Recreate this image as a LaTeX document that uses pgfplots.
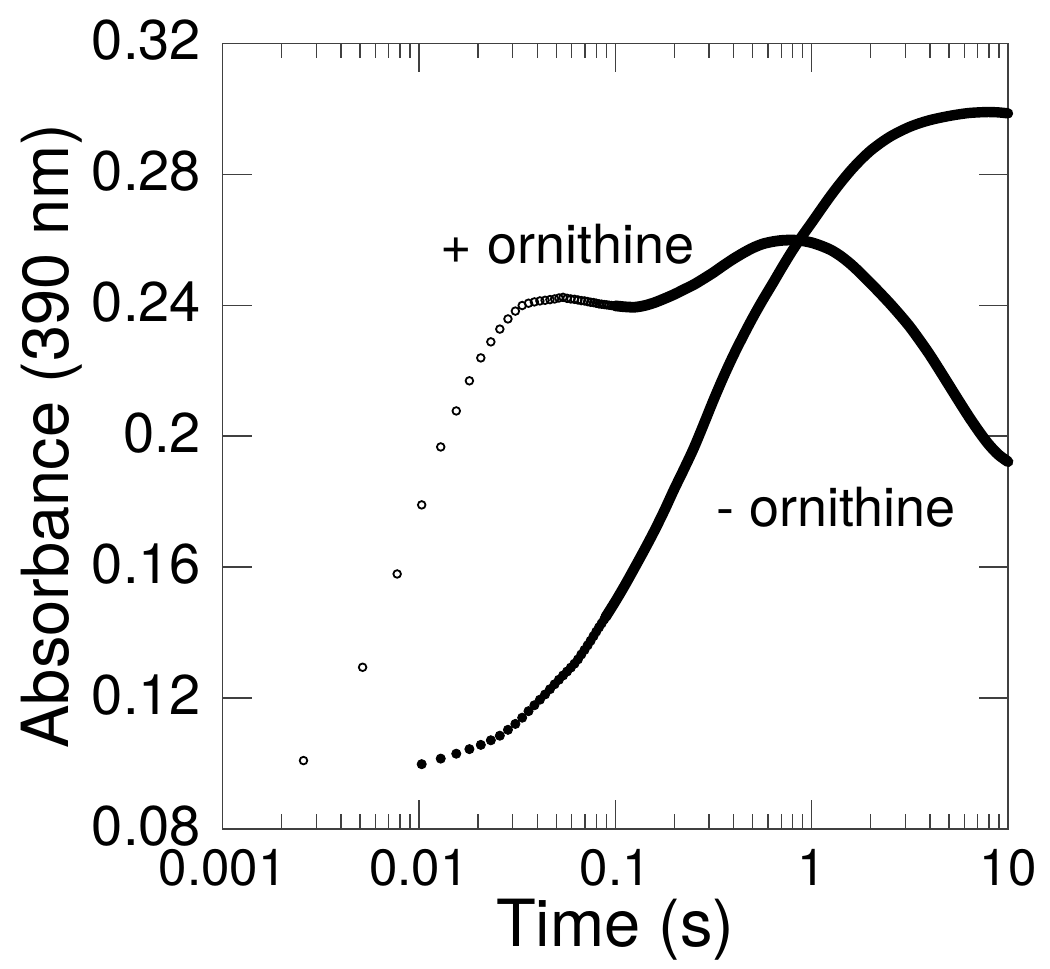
\documentclass[border=0pt]{standalone}
\usepackage{fontspec}
\setmainfont{TeX Gyre Heros}
\usepackage{pgfplots}
\usepackage{pgfplotstable}
\pgfplotsset{compat=1.18}

% + ornithine, single shots (open circles)
\pgfplotstableread{
t v
0.00258 0.1009
0.00516 0.1294
0.00774 0.1579
0.01032 0.1790
0.01290 0.1967
0.01548 0.2077
0.01806 0.2169
0.02064 0.2239
0.02322 0.2288
0.02580 0.2327
0.02838 0.2358
0.03096 0.2382
0.03354 0.2399
0.03612 0.2406
0.03870 0.2410
0.04128 0.2413
0.04386 0.2415
0.04644 0.2417
0.04902 0.2419
0.05160 0.2422
0.05418 0.2424
0.05676 0.2421
0.05934 0.2419
0.06192 0.2418
0.06450 0.2416
0.06708 0.2414
0.06966 0.2413
0.07224 0.2411
0.07482 0.2409
0.07740 0.2408
0.07998 0.2406
0.08256 0.2404
0.08514 0.2403
0.08772 0.2402
0.09030 0.2401
0.09288 0.2400
0.09546 0.2399
0.09804 0.2398
}\plusearly

% - ornithine, single shots (filled circles)
\pgfplotstableread{
t v
0.01032 0.0998
0.01290 0.1015
0.01548 0.1030
0.01806 0.1044
0.02064 0.1057
0.02322 0.1071
0.02580 0.1085
0.02838 0.1103
0.03096 0.1121
0.03354 0.1140
0.03612 0.1160
0.03870 0.1178
0.04128 0.1195
0.04386 0.1211
0.04644 0.1227
0.04902 0.1242
0.05160 0.1256
0.05418 0.1269
0.05676 0.1281
0.05934 0.1293
0.06192 0.1305
0.06450 0.1318
0.06708 0.1333
0.06966 0.1347
0.07224 0.1361
0.07482 0.1375
0.07740 0.1389
0.07998 0.1403
0.08256 0.1416
0.08514 0.1428
0.08772 0.1440
0.09030 0.1452
0.09288 0.1464
0.09546 0.1476
0.09804 0.1487
}\minusearly

% dense part, + ornithine
\pgfplotstableread{
t v
0.1 0.2398
0.1122 0.2395
0.1259 0.2394
0.1413 0.2399
0.1585 0.2408
0.1778 0.2420
0.1995 0.2433
0.2239 0.2448
0.2512 0.2463
0.2818 0.2481
0.3162 0.2500
0.3548 0.2521
0.3981 0.2541
0.4467 0.2559
0.5012 0.2575
0.5623 0.2587
0.6310 0.2594
0.7079 0.2598
0.7943 0.2599
0.8913 0.2597
1.0 0.2591
1.1220 0.2581
1.2589 0.2568
1.4125 0.2549
1.5849 0.2525
1.7783 0.2497
1.9953 0.2467
2.2387 0.2436
2.5119 0.2404
2.8184 0.2370
3.1623 0.2334
3.5481 0.2293
3.9811 0.2250
4.4668 0.2203
5.0119 0.2155
5.6234 0.2107
6.3096 0.2060
7.0795 0.2016
7.9433 0.1976
8.9125 0.1944
10 0.1922
}\plusband

% dense part, - ornithine
\pgfplotstableread{
t v
0.0891 0.1447
0.1 0.1495
0.1122 0.1546
0.1259 0.1600
0.1413 0.1655
0.1585 0.1712
0.1778 0.1773
0.1995 0.1838
0.2239 0.1900
0.2512 0.1964
0.2818 0.2036
0.3162 0.2110
0.3548 0.2180
0.3981 0.2245
0.4467 0.2305
0.5012 0.2362
0.5623 0.2415
0.6310 0.2465
0.7079 0.2516
0.7943 0.2565
0.8913 0.2610
1.0 0.2652
1.1220 0.2695
1.2589 0.2737
1.4125 0.2776
1.5849 0.2812
1.7783 0.2844
1.9953 0.2872
2.2387 0.2895
2.5119 0.2915
2.8184 0.2931
3.1623 0.2945
3.5481 0.2956
3.9811 0.2965
4.4668 0.2972
5.0119 0.2978
5.6234 0.2983
6.3096 0.2987
7.0795 0.2989
7.9433 0.2990
8.9125 0.2989
10 0.2986
}\minusband

\begin{document}
\begin{tikzpicture}
\begin{axis}[
    scale only axis,
    width=392.65pt, height=392.85pt,
    xmode=log,
    xmin=0.001, xmax=10,
    ymin=0.08, ymax=0.32,
    xtick={0.001,0.01,0.1,1,10},
    xticklabels={0.001,0.01,0.1,1,10},
    minor xtick={0.002,0.003,0.004,0.005,0.006,0.007,0.008,0.009,
                 0.02,0.03,0.04,0.05,0.06,0.07,0.08,0.09,
                 0.2,0.3,0.4,0.5,0.6,0.7,0.8,0.9,
                 2,3,4,5,6,7,8,9},
    ytick={0.08,0.12,0.16,0.2,0.24,0.28,0.32},
    yticklabels={0.08,0.12,0.16,0.2,0.24,0.28,0.32},
    tick align=inside,
    major tick length=14.5pt,
    minor tick length=7.5pt,
    axis line style={black!75, line width=0.65pt},
    every tick/.append style={black!75, line width=0.65pt},
    xticklabel style={font=\fontsize{25.5}{30}\selectfont, anchor=north, inner sep=0pt, yshift=-10.15pt},
    yticklabel style={font=\fontsize{28}{33}\selectfont, anchor=east, inner sep=0pt, xshift=-10.7pt, yshift=1.5pt},
    clip=false,
]
    \addplot[only marks, mark=o, mark size=1.9pt, mark options={black, line width=0.9pt}] table {\plusearly};
    \addplot[only marks, mark=*, mark size=2.3pt, mark options={draw=none, fill=black}] table {\minusearly};
    \addplot[black, line width=5.4pt, line cap=round, line join=round, smooth, no marks] table {\plusband};
    \addplot[black, line width=5.2pt, line cap=round, line join=round, smooth, no marks] table {\minusband};

    \node[anchor=base west, inner sep=0pt, font=\fontsize{27}{32}\selectfont] at (axis cs:0.01287,0.2528) {+ ornithine};
    \node[anchor=base west, inner sep=0pt, font=\fontsize{27}{32}\selectfont] at (axis cs:0.3245,0.17235) {- ornithine};

    \coordinate (bl) at (rel axis cs:0,0);
    \coordinate (tr) at (rel axis cs:1,1);
    \coordinate (xl) at (rel axis cs:0.5,0);
    \coordinate (yl) at (rel axis cs:0,0.5);
\end{axis}
\node[anchor=base, inner sep=0pt, font=\fontsize{32.5}{39}\selectfont] at ([yshift=-58.85pt]xl) {Time (s)};
\node[rotate=90, anchor=base, inner sep=0pt, font=\fontsize{32.5}{39}\selectfont] at ([xshift=-77.2pt]yl) {Absorbance (390 nm)};
\pgfresetboundingbox
\path[use as bounding box] ([shift={(-111.35pt,-70pt)}]bl) rectangle ([shift={(21pt,21.65pt)}]tr);
\end{tikzpicture}
\end{document}
